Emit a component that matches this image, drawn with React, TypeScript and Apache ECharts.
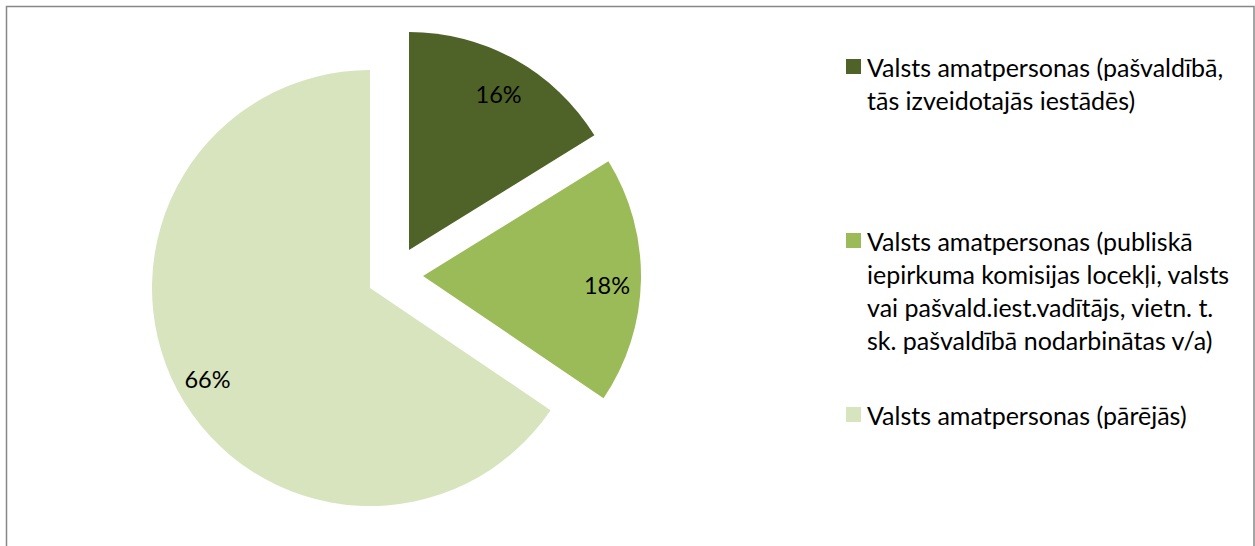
import React, { useEffect, useRef } from "react";
import * as echarts from "echarts";

const categories = [
  "Valsts amatpersonas (pašvaldībā, tās izveidotajās iestādēs)",
  "Valsts amatpersonas (publiskā iepirkuma komisijas locekļi, valsts vai pašvald.iest.vadītājs, vietn. t. sk. pašvaldībā nodarbinātas v/a)",
  "Valsts amatpersonas (pārējās)",
];
const legendLines = [
  ["Valsts amatpersonas (pašvaldībā,", "tās izveidotajās iestādēs)"],
  [
    "Valsts amatpersonas (publiskā",
    "iepirkuma komisijas locekļi, valsts",
    "vai pašvald.iest.vadītājs, vietn. t.",
    "sk. pašvaldībā nodarbinātas v/a)",
  ],
  ["Valsts amatpersonas (pārējās)"],
];
const shares = [16.2, 18.3, 65.6];

const colors = ["#4F6228", "#9BBB59", "#D7E4BD"];
const centers = [
  [409, 250],
  [423, 276],
  [370, 288],
];
const legendTops = [50, 224, 398];
const FONT = "Lato";
const R = 218;

export default function App() {
  const ref = useRef<HTMLDivElement>(null);
  useEffect(() => {
    document.body.style.margin = "0";
    const chart = echarts.init(ref.current!, null, { renderer: "svg" });
    const series: any[] = [];
    categories.forEach((_, owner) => {
      series.push({
        type: "pie",
        center: centers[owner],
        radius: [0, R],
        startAngle: 90,
        clockwise: true,
        silent: true,
        avoidLabelOverlap: false,
        label: { show: false },
        labelLine: { show: false },
        emphasis: { disabled: true },
        data: categories.map((name, j) => ({
          name,
          value: shares[j],
          itemStyle: { color: j === owner ? colors[j] : "rgba(0,0,0,0)" },
        })),
      });
      series.push({
        type: "pie",
        center: centers[owner],
        radius: [144, R],
        startAngle: 90,
        clockwise: true,
        silent: true,
        avoidLabelOverlap: false,
        labelLine: { show: false },
        labelLayout: { dy: 5 },
        emphasis: { disabled: true },
        data: categories.map((name, j) => ({
          name,
          value: shares[j],
          itemStyle: { color: "rgba(0,0,0,0)" },
          label: {
            show: j === owner,
            position: "inside",
            formatter: (p: any) => Math.round(p.percent) + "%",
            color: "#000",
            fontFamily: FONT,
            fontSize: 23.5,
          },
        })),
      });
    });

    const rich: any = {
      t: { fontFamily: FONT, fontSize: 25, color: "#000", lineHeight: 33 },
      s: { width: 21, lineHeight: 33 },
      g: { width: 6, lineHeight: 33 },
    };
    colors.forEach((c, i) => {
      rich["i" + i] = { width: 15, height: 15, backgroundColor: c, lineHeight: 33 };
    });

    const legends = categories.map((name, i) => ({
      orient: "vertical",
      left: 841,
      top: legendTops[i],
      padding: 0,
      icon: "none",
      itemWidth: 0,
      itemHeight: 0,
      selectedMode: false,
      data: [name],
      formatter: () =>
        legendLines[i]
          .map((ln, k) => (k === 0 ? `{i${i}|}{g|}{t|${ln}}` : `{s|}{t|${ln}}`))
          .join("\n"),
      textStyle: { fontFamily: FONT, fontSize: 25, color: "#000", lineHeight: 33, rich },
    }));

    chart.setOption({
      animation: false,
      backgroundColor: "#ffffff",
      legend: legends,
      graphic: [
        {
          type: "rect",
          shape: { x: 6.5, y: 6.5, width: 1247.5, height: 700 },
          style: { fill: "none", stroke: "#888888", lineWidth: 1.5 },
          silent: true,
        },
      ],
      series,
    });
    return () => chart.dispose();
  }, []);
  return <div ref={ref} style={{ width: 1255, height: 546 }} />;
}
